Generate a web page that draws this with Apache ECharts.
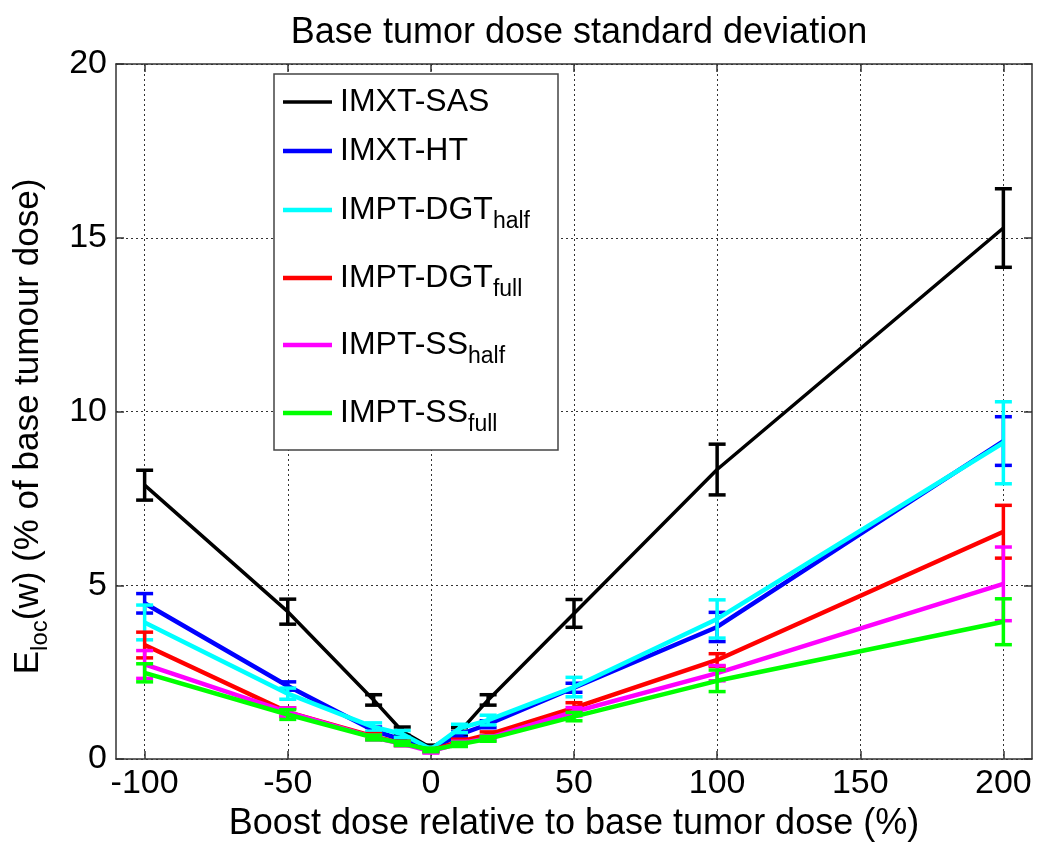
<!DOCTYPE html>
<html><head><meta charset="utf-8">
<script src="https://cdn.jsdelivr.net/npm/echarts@6/dist/echarts.min.js"></script>
<style>html,body{margin:0;padding:0;background:#fff}#c{width:1050px;height:849px}</style>
</head><body><div id="c"></div>
<script>
// ---- data ----
const boostDose = [-100, -50, -20, -10, 0, 10, 20, 50, 100, 200];
const xTicks = [-100, -50, 0, 50, 100, 150, 200];
const seriesNames = ['IMXT-SAS', 'IMXT-HT', 'IMPT-DGThalf', 'IMPT-DGTfull', 'IMPT-SShalf', 'IMPT-SSfull'];
const legendMain = ['IMXT-SAS', 'IMXT-HT', 'IMPT-DGT', 'IMPT-DGT', 'IMPT-SS', 'IMPT-SS'];
const legendSub = ['', '', 'half', 'full', 'half', 'full'];

const sasMean = [7.88, 4.24, 1.70, 0.80, 0.32, 0.78, 1.70, 4.19, 8.33, 15.28];
const sasErr  = [0.43, 0.36, 0.15, 0.12, 0.08, 0.12, 0.15, 0.40, 0.73, 1.13];
const htMean  = [4.48, 2.10, 0.82, 0.55, 0.28, 0.70, 1.00, 2.05, 3.80, 9.15];
const htErr   = [0.28, 0.12, 0.10, 0.08, 0.05, 0.08, 0.10, 0.13, 0.42, 0.70];
const dgtHalfMean = [3.93, 1.88, 0.92, 0.72, 0.28, 0.88, 1.12, 2.07, 4.03, 9.10];
const dgtHalfErr  = [0.50, 0.16, 0.12, 0.10, 0.06, 0.12, 0.14, 0.28, 0.55, 1.18];
const dgtFullMean = [3.28, 1.35, 0.65, 0.45, 0.25, 0.50, 0.70, 1.47, 2.85, 6.54];
const dgtFullErr  = [0.37, 0.12, 0.08, 0.06, 0.05, 0.07, 0.08, 0.15, 0.18, 0.76];
const ssHalfMean  = [2.72, 1.35, 0.62, 0.44, 0.22, 0.45, 0.60, 1.36, 2.47, 5.04];
const ssHalfErr   = [0.40, 0.12, 0.07, 0.06, 0.05, 0.06, 0.07, 0.12, 0.22, 1.06];
const ssFullMean  = [2.48, 1.28, 0.62, 0.45, 0.26, 0.42, 0.58, 1.22, 2.25, 3.95];
const ssFullErr   = [0.26, 0.14, 0.07, 0.06, 0.05, 0.06, 0.07, 0.12, 0.31, 0.66];

const means = [sasMean, htMean, dgtHalfMean, dgtFullMean, ssHalfMean, ssFullMean];
const errs = [sasErr, htErr, dgtHalfErr, dgtFullErr, ssHalfErr, ssFullErr];
const colors = ['#000000', '#0000ff', '#00ffff', '#ff0000', '#ff00ff', '#00ff00'];
const lineWidths = [3.5, 4.5, 4.5, 4.5, 4.5, 4.5];

const FONT = '"Liberation Sans", Arial, Helvetica, sans-serif';

const series = [];
means.forEach((m, k) => {
  series.push({
    type: 'line', name: seriesNames[k], z: 10 + 2 * k, silent: true,
    data: boostDose.map((x, i) => [x, m[i]]),
    symbol: 'none', lineStyle: { color: colors[k], width: lineWidths[k] },
    itemStyle: { color: colors[k] }
  });
  series.push({
    type: 'custom', name: seriesNames[k] + ' err', z: 11 + 2 * k, silent: true,
    data: boostDose.map((x, i) => [x, m[i], errs[k][i]]),
    encode: { x: 0, y: 1 },
    renderItem: function (params, api) {
      const x = api.value(0), v = api.value(1), e = api.value(2);
      const hi = api.coord([x, v + e]), lo = api.coord([x, v - e]);
      const w = 8.5;
      const st = { stroke: colors[k], lineWidth: 3.5 };
      return { type: 'group', children: [
        { type: 'line', shape: { x1: hi[0], y1: hi[1], x2: lo[0], y2: lo[1] }, style: st },
        { type: 'line', shape: { x1: hi[0] - w, y1: hi[1], x2: hi[0] + w, y2: hi[1] }, style: st },
        { type: 'line', shape: { x1: lo[0] - w, y1: lo[1], x2: lo[0] + w, y2: lo[1] }, style: st }
      ]};
    }
  });
});

// legend drawn as graphic (box, line samples, text with subscripts)
const legendYs = [102, 151, 210, 278, 345, 413];
const legendRich = {
  m: { fontSize: 32, fontFamily: FONT, color: '#000', verticalAlign: 'top' },
  s: { fontSize: 23, fontFamily: FONT, color: '#000', verticalAlign: 'top', padding: [16, 0, 0, 0] }
};
const graphics = [{
  type: 'rect', z: 100, shape: { x: 274, y: 74, width: 284, height: 376 },
  style: { fill: '#fff', stroke: '#444', lineWidth: 1.5 }
}];
seriesNames.forEach((n, k) => {
  const y = legendYs[k];
  graphics.push({ type: 'line', z: 101, shape: { x1: 283, y1: y, x2: 332, y2: y },
    style: { stroke: colors[k], lineWidth: lineWidths[k] } });
  graphics.push({ type: 'text', z: 101, x: 340, y: y - 16,
    style: { text: '{m|' + legendMain[k] + '}' + (legendSub[k] ? '{s|' + legendSub[k] + '}' : ''),
      rich: legendRich, verticalAlign: 'top', align: 'left' } });
});

const axisLineStyle = { color: '#333', width: 1.5 };
const chart = echarts.init(document.getElementById('c'));
chart.setOption({
  animation: false,
  backgroundColor: '#fff',
  title: {
    text: 'Base tumor dose standard deviation', left: 574, top: 10, textAlign: 'center',
    textStyle: { fontSize: 36, fontWeight: 'normal', color: '#000', fontFamily: FONT }
  },
  grid: { left: 116, top: 64, right: 18, bottom: 90, containLabel: false },
  xAxis: [{
    type: 'value', min: -110, max: 210,
    axisLine: { show: true, onZero: false, lineStyle: axisLineStyle },
    axisTick: { show: true, inside: true, length: 8, customValues: xTicks, lineStyle: axisLineStyle },
    axisLabel: { customValues: xTicks, fontSize: 34, color: '#000', fontFamily: FONT, margin: 8 },
    splitLine: { show: true, lineStyle: { type: [2, 3], color: '#333', width: 1 } },
    name: 'Boost dose relative to base tumor dose (%)', nameLocation: 'middle', nameGap: 43,
    nameTextStyle: { fontSize: 36, color: '#000', fontFamily: FONT }
  }, {
    type: 'value', min: -110, max: 210, position: 'top',
    axisLine: { show: true, onZero: false, lineStyle: axisLineStyle },
    axisTick: { show: true, inside: true, length: 8, customValues: xTicks, lineStyle: axisLineStyle },
    axisLabel: { show: false }, splitLine: { show: false }
  }],
  yAxis: [{
    type: 'value', min: 0, max: 20, interval: 5,
    axisLine: { show: true, onZero: false, lineStyle: axisLineStyle },
    axisTick: { show: true, inside: true, length: 8, lineStyle: axisLineStyle },
    axisLabel: { fontSize: 34, color: '#000', fontFamily: FONT, margin: 9 },
    splitLine: { show: true, lineStyle: { type: [2, 3], color: '#333', width: 1 } },
    name: '{m|E}{s|loc}{m|(w) (% of base tumour dose)}', nameLocation: 'middle', nameGap: 64, nameRotate: 90,
    nameTextStyle: { fontSize: 35, color: '#000', fontFamily: FONT, padding: [0, 30, 0, 0],
      rich: {
        m: { fontSize: 35, fontFamily: FONT, color: '#000', verticalAlign: 'top' },
        s: { fontSize: 24, fontFamily: FONT, color: '#000', verticalAlign: 'top', padding: [17, 0, 0, 0] }
      } }
  }, {
    type: 'value', min: 0, max: 20, interval: 5, position: 'right',
    axisLine: { show: true, onZero: false, lineStyle: axisLineStyle },
    axisTick: { show: true, inside: true, length: 8, lineStyle: axisLineStyle },
    axisLabel: { show: false }, splitLine: { show: false }
  }],
  series: series,
  graphic: graphics
});
</script></body></html>
